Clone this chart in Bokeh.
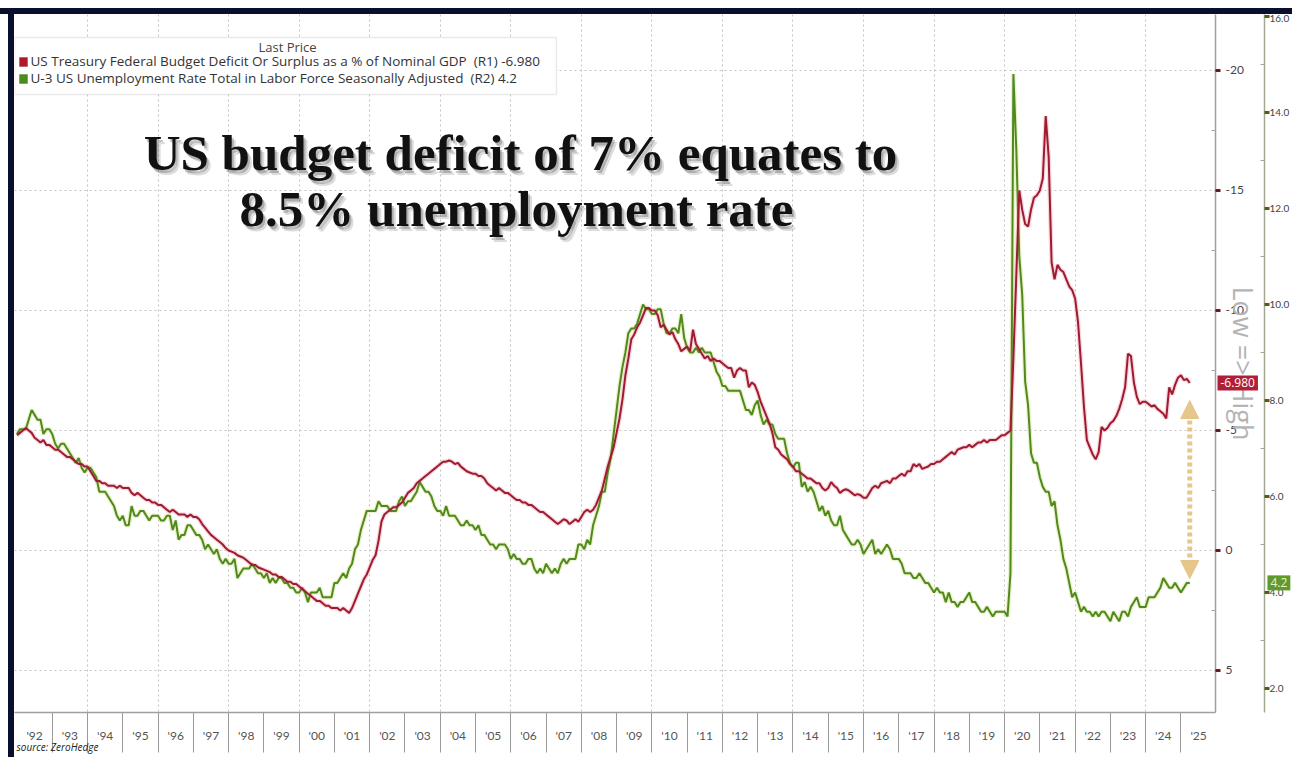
import numpy as np
from bokeh.plotting import figure
from bokeh.models import (Range1d, LinearAxis, FixedTicker, Label, BoxAnnotation,
                          Arrow, NormalHead)
from bokeh.embed import file_html
from bokeh.resources import INLINE

# ---------------- data (monthly, Jan 1992 .. Apr 2025) ----------------
start_year = 1992

deficit_pct_gdp = [
    -4.8, -4.9, -5.0, -5.1, -5.0, -4.9, -4.7, -4.6, -4.5, -4.6, -4.4, -4.4,   # 1992
    -4.3, -4.2, -4.2, -4.1, -4.0, -3.9, -3.9, -3.8, -3.7, -3.6, -3.6, -3.5,   # 1993
    -3.5, -3.3, -3.1, -2.9, -2.9, -2.8, -2.8, -2.7, -2.7, -2.7, -2.6, -2.7,   # 1994
    -2.6, -2.6, -2.6, -2.4, -2.3, -2.4, -2.3, -2.2, -2.1, -2.1, -2.0, -2.0,   # 1995
    -1.9, -1.9, -1.8, -1.7, -1.6, -1.7, -1.6, -1.5, -1.5, -1.5, -1.4, -1.5,   # 1996
    -1.4, -1.4, -1.3, -1.1, -0.95, -0.8, -0.65, -0.55, -0.45, -0.35, -0.25, -0.1,  # 1997
    0.0, 0.05, 0.1, 0.2, 0.25, 0.3, 0.4, 0.5, 0.6, 0.6, 0.7, 0.75,           # 1998
    0.8, 0.85, 0.9, 1.0, 1.0, 1.1, 1.1, 1.2, 1.3, 1.3, 1.4, 1.4,             # 1999
    1.5, 1.6, 1.7, 1.8, 1.9, 2.0, 2.1, 2.1, 2.2, 2.3, 2.3, 2.4,              # 2000
    2.4, 2.4, 2.5, 2.4, 2.5, 2.6, 2.4, 2.1, 1.8, 1.5, 1.2, 1.0,              # 2001
    0.7, 0.4, 0.2, -0.4, -1.2, -1.5, -1.6, -1.7, -1.8, -1.8, -1.9, -2.0,     # 2002
    -2.2, -2.4, -2.5, -2.6, -2.8, -2.9, -3.0, -3.1, -3.2, -3.3, -3.4, -3.5,  # 2003
    -3.6, -3.7, -3.7, -3.75, -3.7, -3.6, -3.65, -3.5, -3.4, -3.3, -3.25, -3.2,  # 2004
    -3.2, -3.1, -3.1, -3.0, -2.8, -2.7, -2.6, -2.5, -2.6, -2.5, -2.4, -2.4,  # 2005
    -2.3, -2.2, -2.1, -2.1, -2.0, -2.0, -1.9, -1.9, -1.8, -1.7, -1.6, -1.6,  # 2006
    -1.5, -1.4, -1.3, -1.2, -1.1, -1.2, -1.3, -1.25, -1.1, -1.2, -1.3, -1.2,  # 2007
    -1.4, -1.6, -1.7, -1.6, -1.7, -1.9, -2.2, -2.5, -3.0, -3.5, -3.9, -4.3,  # 2008
    -4.9, -5.5, -6.3, -7.3, -8.0, -8.8, -9.0, -9.3, -9.5, -9.8, -10.1, -10.1,  # 2009
    -10.0, -10.0, -9.8, -9.3, -9.4, -9.2, -9.0, -9.1, -8.8, -8.6, -8.3, -8.4,  # 2010
    -8.5, -8.3, -9.2, -8.6, -8.4, -8.2, -8.0, -8.1, -7.9, -8.0, -7.9, -7.9,  # 2011
    -7.8, -7.7, -7.6, -7.6, -7.2, -7.5, -7.6, -7.5, -7.5, -6.8, -7.0, -6.9,  # 2012
    -6.6, -6.2, -5.9, -5.6, -5.3, -4.9, -4.3, -4.2, -4.0, -3.9, -3.8, -3.6,  # 2013
    -3.5, -3.3, -3.3, -3.2, -3.1, -3.0, -3.0, -2.9, -2.8, -2.8, -2.6, -2.5,  # 2014
    -2.6, -2.85, -2.7, -2.6, -2.4, -2.5, -2.55, -2.5, -2.4, -2.3, -2.35, -2.3,  # 2015
    -2.2, -2.2, -2.4, -2.6, -2.7, -2.6, -2.8, -2.85, -2.9, -2.8, -3.0, -3.0,  # 2016
    -3.1, -3.2, -3.1, -3.3, -3.3, -3.6, -3.5, -3.6, -3.4, -3.45, -3.5, -3.6,  # 2017
    -3.6, -3.7, -3.7, -3.8, -3.9, -4.0, -4.1, -4.0, -4.2, -4.25, -4.3, -4.3,  # 2018
    -4.4, -4.3, -4.4, -4.5, -4.5, -4.6, -4.5, -4.6, -4.6, -4.6, -4.7, -4.8,  # 2019
    -4.8, -4.9, -5.0, -8.0, -11.5, -15.0, -14.2, -13.6, -13.5, -14.2, -14.7, -14.8,  # 2020
    -15.0, -15.5, -18.1, -16.4, -12.0, -11.3, -11.9, -11.7, -11.6, -11.3, -11.0, -10.85,  # 2021
    -10.5, -9.5, -7.8, -6.0, -4.6, -4.3, -4.0, -3.8, -4.1, -5.15, -5.0, -5.1,  # 2022
    -5.3, -5.4, -5.6, -5.9, -6.3, -6.8, -8.2, -8.1, -7.0, -6.4, -6.1, -6.2,  # 2023
    -6.2, -6.1, -6.0, -6.05, -5.9, -5.8, -5.7, -5.5, -6.8, -6.5, -6.9, -7.2,  # 2024
    -7.3, -7.1, -7.15, -6.98,                                                # 2025
]

unemployment_rate = [
    7.3, 7.4, 7.4, 7.4, 7.6, 7.8, 7.7, 7.6, 7.6, 7.3, 7.4, 7.4,   # 1992
    7.3, 7.1, 7.0, 7.1, 7.1, 7.0, 6.9, 6.8, 6.7, 6.8, 6.6, 6.5,   # 1993
    6.6, 6.6, 6.5, 6.4, 6.1, 6.1, 6.1, 6.0, 5.9, 5.8, 5.6, 5.5,   # 1994
    5.6, 5.4, 5.4, 5.8, 5.6, 5.6, 5.7, 5.7, 5.6, 5.5, 5.6, 5.6,   # 1995
    5.6, 5.5, 5.5, 5.6, 5.6, 5.3, 5.5, 5.1, 5.2, 5.2, 5.4, 5.4,   # 1996
    5.3, 5.2, 5.2, 5.1, 4.9, 5.0, 4.9, 4.8, 4.9, 4.7, 4.6, 4.7,   # 1997
    4.6, 4.6, 4.7, 4.3, 4.4, 4.5, 4.5, 4.5, 4.6, 4.5, 4.4, 4.4,   # 1998
    4.3, 4.4, 4.2, 4.3, 4.2, 4.3, 4.3, 4.2, 4.2, 4.1, 4.1, 4.0,   # 1999
    4.0, 4.1, 4.0, 3.8, 4.0, 4.0, 4.0, 4.1, 3.9, 3.9, 3.9, 3.9,   # 2000
    4.2, 4.2, 4.3, 4.4, 4.3, 4.5, 4.6, 4.9, 5.0, 5.3, 5.5, 5.7,   # 2001
    5.7, 5.7, 5.7, 5.9, 5.8, 5.8, 5.8, 5.7, 5.7, 5.7, 5.9, 6.0,   # 2002
    5.8, 5.9, 5.9, 6.0, 6.1, 6.3, 6.2, 6.1, 6.1, 6.0, 5.8, 5.7,   # 2003
    5.7, 5.6, 5.8, 5.6, 5.6, 5.6, 5.5, 5.4, 5.4, 5.5, 5.4, 5.4,   # 2004
    5.3, 5.4, 5.2, 5.2, 5.1, 5.0, 5.0, 4.9, 5.0, 5.0, 5.0, 4.9,   # 2005
    4.7, 4.8, 4.7, 4.7, 4.6, 4.6, 4.7, 4.7, 4.5, 4.4, 4.5, 4.4,   # 2006
    4.6, 4.5, 4.4, 4.5, 4.4, 4.6, 4.7, 4.6, 4.7, 4.7, 4.7, 5.0,   # 2007
    5.0, 4.9, 5.1, 5.0, 5.4, 5.6, 5.8, 6.1, 6.1, 6.5, 6.8, 7.3,   # 2008
    7.8, 8.3, 8.7, 9.0, 9.4, 9.5, 9.5, 9.6, 9.8, 10.0, 9.9, 9.9,  # 2009
    9.8, 9.8, 9.9, 9.9, 9.6, 9.4, 9.4, 9.5, 9.5, 9.4, 9.8, 9.3,   # 2010
    9.1, 9.0, 9.0, 9.1, 9.0, 9.1, 9.0, 9.0, 9.0, 8.8, 8.6, 8.5,   # 2011
    8.3, 8.3, 8.2, 8.2, 8.2, 8.2, 8.2, 8.0, 7.8, 7.8, 7.7, 7.9,   # 2012
    8.0, 7.7, 7.5, 7.6, 7.5, 7.5, 7.3, 7.2, 7.2, 7.2, 6.9, 6.7,   # 2013
    6.6, 6.7, 6.7, 6.2, 6.3, 6.1, 6.2, 6.1, 5.9, 5.7, 5.8, 5.6,   # 2014
    5.7, 5.5, 5.4, 5.4, 5.6, 5.3, 5.2, 5.1, 5.0, 5.0, 5.1, 5.0,   # 2015
    4.8, 4.9, 5.0, 5.1, 4.8, 4.9, 4.8, 4.9, 5.0, 4.9, 4.7, 4.7,   # 2016
    4.7, 4.6, 4.4, 4.4, 4.4, 4.3, 4.3, 4.4, 4.3, 4.2, 4.2, 4.1,   # 2017
    4.0, 4.1, 4.0, 4.0, 3.8, 4.0, 3.8, 3.8, 3.7, 3.8, 3.8, 3.9,   # 2018
    4.0, 3.8, 3.8, 3.7, 3.6, 3.6, 3.7, 3.6, 3.5, 3.6, 3.6, 3.6,   # 2019
    3.6, 3.5, 4.4, 14.8, 13.2, 11.0, 10.2, 8.4, 7.9, 6.9, 6.7, 6.7,  # 2020
    6.4, 6.2, 6.1, 6.1, 5.8, 5.9, 5.4, 5.1, 4.7, 4.5, 4.2, 3.9,   # 2021
    4.0, 3.8, 3.6, 3.7, 3.6, 3.6, 3.5, 3.6, 3.5, 3.6, 3.6, 3.5,   # 2022
    3.4, 3.6, 3.5, 3.4, 3.6, 3.6, 3.5, 3.7, 3.8, 3.9, 3.7, 3.7,   # 2023
    3.7, 3.9, 3.9, 3.9, 4.0, 4.1, 4.3, 4.2, 4.1, 4.1, 4.2, 4.1,   # 2024
    4.0, 4.1, 4.2, 4.2,                                           # 2025
]

years = list(range(1992, 2026))
year_labels = ["'92", "'93", "'94", "'95", "'96", "'97", "'98", "'99", "'00", "'01",
               "'02", "'03", "'04", "'05", "'06", "'07", "'08", "'09", "'10", "'11",
               "'12", "'13", "'14", "'15", "'16", "'17", "'18", "'19", "'20", "'21",
               "'22", "'23", "'24", "'25"]
r1_ticks = [-20, -15, -10, -5, 0, 5]
r1_labels = ["-20", "-15", "-10", "-5", "0", "5"]
r2_ticks = [2, 4, 6, 8, 10, 12, 14, 16]
r2_labels = ["2.0", "4.0", "6.0", "8.0", "10.0", "12.0", "14.0", "16.0"]

legend_title = "Last Price"
legend_red = "US Treasury Federal Budget Deficit Or Surplus as a % of Nominal GDP\u00a0\u00a0(R1) -6.980"
legend_green = "U-3 US Unemployment Rate Total in Labor Force Seasonally Adjusted\u00a0\u00a0(R2) 4.2"
title_1 = "US budget deficit of 7% equates to"
title_2 = "8.5% unemployment rate"
red_tag = "-6.980"
green_tag = "4.2"
source_text = "source: ZeroHedge"

RED = "#9e1b32"
GREEN = "#4f8a1e"
NAVY = "#0b0f2e"
GRID = "#c2c2c2"
TAN = "#e3c07e"

# ---------------- layout constants ----------------
VIS_W, VIS_H = 1278, 749        # visible canvas (inside the navy frame)
HIDDEN_L = 180                  # left strip (mostly off-page) hosting unclipped labels
X0, X1 = 1991.93, 2025.98
PX_PER_YEAR = 1202 / (X1 - X0)

n = len(deficit_pct_gdp)
x = start_year + np.arange(n) / 12.0

p = figure(width=VIS_W + HIDDEN_L, height=VIS_H,
           x_range=Range1d(X0, X1),
           y_range=Range1d(6.75, -22.333),
           y_axis_location="right",
           output_backend="svg", toolbar_location=None,
           min_border_left=HIDDEN_L, min_border_top=0,
           min_border_right=76, min_border_bottom=51,
           background_fill_color="white", border_fill_color=None,
           outline_line_color=None)
# page: 8px white margin, 6px navy frame on top and left, then the canvas
p.styles = {
    "margin-top": "8px",
    "margin-left": f"-{HIDDEN_L - 14}px",
    "border-top": f"6px solid {NAVY}",
    "background": (f"linear-gradient(to right, #ffffff {HIDDEN_L - 6}px, {NAVY} {HIDDEN_L - 6}px, "
                   f"{NAVY} {HIDDEN_L}px, #ffffff {HIDDEN_L}px)"),
}
p.extra_y_ranges = {"r2": Range1d(1.5, 16.04)}

# grids
p.xgrid.ticker = FixedTicker(ticks=list(range(1994, 2025, 2)))
p.ygrid.ticker = FixedTicker(ticks=r1_ticks)
for g in (p.xgrid[0], p.ygrid[0]):
    g.grid_line_color = GRID
    g.grid_line_dash = "2 3"
    g.grid_line_width = 1

# x axis
xa = p.xaxis[0]
xa.ticker = FixedTicker(ticks=[y + 0.5 for y in years], minor_ticks=years[1:])
xa.major_label_overrides = {y + 0.5: lab for y, lab in zip(years, year_labels)}
xa.major_tick_line_color = None
xa.major_tick_out = 0
xa.major_tick_in = 0
xa.minor_tick_out = 40
xa.minor_tick_in = 0
xa.minor_tick_line_color = "#9a9a9a"
xa.axis_line_color = "#a0a0a0"
xa.axis_line_width = 1.5
xa.major_label_standoff = -25
xa.major_label_text_font = "Lato"
xa.major_label_text_font_size = "12px"
xa.major_label_text_color = "#555555"

# R1 axis (deficit, inverted) with the "Low => High" note as its axis label
ya = p.yaxis[0]
ya.ticker = FixedTicker(ticks=r1_ticks, minor_ticks=[-17.5, -12.5, -7.5, -2.5, 2.5])
ya.major_label_overrides = {t: l for t, l in zip(r1_ticks, r1_labels)}
ya.axis_line_color = "#aa9aa2"
ya.axis_line_width = 1.5
ya.major_tick_out = 5
ya.major_tick_in = 0
ya.major_tick_line_width = 3
ya.major_tick_line_color = "#6a1a28"
ya.minor_tick_in = 4
ya.minor_tick_out = 0
ya.minor_tick_line_color = "#aaaaaa"
ya.major_label_standoff = 5
ya.major_label_text_font = "Lato"
ya.major_label_text_font_size = "12px"
ya.major_label_text_color = "#444444"
ya.axis_label = "Low => High"
ya.axis_label_text_font = "Open Sans"
ya.axis_label_text_font_style = "normal"
ya.axis_label_text_font_size = "27px"
ya.axis_label_text_color = "#b4b4b4"
ya.axis_label_standoff = -22

# R2 axis (unemployment)
a2 = LinearAxis(y_range_name="r2",
                ticker=FixedTicker(ticks=r2_ticks, minor_ticks=[3, 5, 7, 9, 11, 13, 15]))
a2.major_label_overrides = {t: l for t, l in zip(r2_ticks, r2_labels)}
a2.axis_line_color = "#a4a88e"
a2.axis_line_width = 1.5
a2.major_tick_out = 5
a2.major_tick_in = 0
a2.major_tick_line_width = 3
a2.major_tick_line_color = "#4f5f1a"
a2.minor_tick_in = 4
a2.minor_tick_out = 0
a2.minor_tick_line_color = "#a4a88e"
a2.major_label_standoff = 0
a2.major_label_text_font = "Lato"
a2.major_label_text_font_size = "10px"
a2.major_label_text_color = "#444444"
p.add_layout(a2, "right")

# series
p.line(x, unemployment_rate, y_range_name="r2", line_color="#dfe8a6", line_width=4.5, line_alpha=0.6)
p.line(x, deficit_pct_gdp, line_color="#f3bcc6", line_width=4.5, line_alpha=0.6)
p.line(x, unemployment_rate, y_range_name="r2", line_color=GREEN, line_width=2)
p.line(x, deficit_pct_gdp, line_color=RED, line_width=2)

# legend box
p.add_layout(BoxAnnotation(left=0, right=542, left_units="screen", right_units="screen",
                           top=-21.375, bottom=-19.0, fill_color="white", fill_alpha=1,
                           line_color="#b8b8b8", line_width=1.5))
p.add_layout(Label(x=273, x_units="screen", y=-20.96, text=legend_title, text_align="center",
                   text_baseline="middle", text_font="Open Sans", text_font_size="13px",
                   text_color="#444444"))
p.add_layout(BoxAnnotation(left=5, right=13, left_units="screen", right_units="screen",
                           top=-20.54, bottom=-20.17, fill_color="#b0182e", fill_alpha=1,
                           line_color="#6a0f1c"))
p.add_layout(BoxAnnotation(left=5, right=13, left_units="screen", right_units="screen",
                           top=-19.83, bottom=-19.46, fill_color="#4f8a1e", fill_alpha=1,
                           line_color="#2f5a10"))
p.add_layout(Label(x=16, x_units="screen", y=-20.375, text=legend_red, text_baseline="middle",
                   text_font="Open Sans", text_font_size="13.5px", text_color="#333333"))
p.add_layout(Label(x=16, x_units="screen", y=-19.667, text=legend_green, text_baseline="middle",
                   text_font="Open Sans", text_font_size="13.5px", text_color="#333333"))

# headline with soft shadow
for dx, dy, col, al in [(4, 0.2, "#777777", 0.25), (2, 0.1, "#555555", 0.35), (0, 0.0, "#111111", 1.0)]:
    for txt, xx, yy in [(title_1, 506, -16.55), (title_2, 502, -14.22)]:
        p.add_layout(Label(x=xx + dx, x_units="screen", y=yy + dy, text=txt,
                           text_align="center", text_baseline="alphabetic",
                           text_font="Liberation Serif", text_font_style="bold",
                           text_font_size="51px", text_color=col, text_alpha=al))

# double arrow
head_kw = dict(size=18, fill_color=TAN, line_color=TAN, fill_alpha=0.9, line_alpha=0.9)
p.add_layout(Arrow(start=NormalHead(**head_kw), end=NormalHead(**head_kw),
                   x_start=x[-1], y_start=1.17, x_end=x[-1], y_end=-6.25,
                   line_color=TAN, line_width=5, line_dash="4 3", line_alpha=0.9))

# labels outside the frame: hosted in the left side panel so they are not clipped
p.add_layout(Label(x=X1 + 2 / PX_PER_YEAR, y=deficit_pct_gdp[-1], text=red_tag,
                   text_align="left", text_baseline="middle", text_font="Open Sans",
                   text_font_size="12px", text_color="white", background_fill_color="#b01f35",
                   padding=3), "left")
p.add_layout(Label(x=X1 + 52 / PX_PER_YEAR, y=unemployment_rate[-1], y_range_name="r2",
                   text=green_tag, text_align="left", text_baseline="middle",
                   text_font="Open Sans", text_font_size="12px", text_color="#f3f0c8",
                   background_fill_color="#5e9a2c", padding=3), "left")
p.add_layout(Label(x=X0 + 2 / PX_PER_YEAR, y=8.2, text=source_text,
                   text_align="left", text_baseline="middle", text_font="Open Sans",
                   text_font_style="italic", text_font_size="10px", text_color="#222222"),
             "left")

open("out.html", "w").write(file_html(p, INLINE))
